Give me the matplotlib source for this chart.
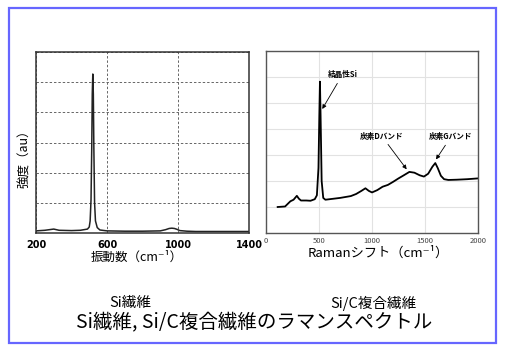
"""Si繊維 / Si-C複合繊維のラマンスペクトル（2 パネル）を再現する。"""
import matplotlib.pyplot as plt
from matplotlib.patches import Rectangle

plt.rcParams['font.family'] = ['Noto Sans CJK JP', 'DejaVu Sans']

# --- 左: Si繊維 -------------------------------------------------------------
si_wavenumber = [200, 250, 300, 330, 400, 450, 490, 500, 505, 510, 514, 517,
                 520, 523, 526, 530, 535, 545, 560, 600, 700, 800, 900, 930,
                 950, 965, 980, 995, 1010, 1050, 1100, 1200, 1300, 1400]
si_intensity = [0.07, 0.09, 0.13, 0.09, 0.08, 0.09, 0.13, 0.2, 0.4, 1.1, 2.8, 4.6,
                5.27, 4.6, 2.8, 1.0, 0.4, 0.18, 0.1, 0.07, 0.06, 0.06, 0.07, 0.11,
                0.15, 0.16, 0.15, 0.12, 0.08, 0.06, 0.05, 0.05, 0.05, 0.05]
si_xticks = [200, 600, 1000, 1400]

# --- 右: Si/C複合繊維 -------------------------------------------------------
sic_shift = [110, 180, 200, 230, 260, 291, 310, 330, 380, 420, 460, 480, 495,
             503, 509, 515, 525, 540, 560, 600, 700, 800, 850, 900, 938, 970,
             1000, 1050, 1100, 1150, 1200, 1250, 1300, 1353, 1400, 1450, 1490,
             1530, 1570, 1597, 1620, 1650, 1680, 1720, 1800, 1900, 2000]
sic_intensity = [1.0, 1.02, 1.1, 1.22, 1.28, 1.43, 1.32, 1.25, 1.25, 1.24, 1.3,
                 1.45, 2.5, 4.5, 5.82, 4.5, 2.0, 1.35, 1.28, 1.3, 1.35, 1.42,
                 1.5, 1.62, 1.72, 1.62, 1.56, 1.65, 1.78, 1.85, 1.97, 2.1, 2.22,
                 2.35, 2.32, 2.22, 2.17, 2.28, 2.55, 2.69, 2.5, 2.2, 2.07, 2.04,
                 2.05, 2.07, 2.1]
sic_xticks = [0, 500, 1000, 1500, 2000]

# (label, text position, arrow tip)
peak_notes = [
    ("結晶性Si", (720, 6.08), (531, 4.77)),
    ("炭素Dバンド", (1092, 3.73), (1327, 2.45)),
    ("炭素Gバンド", (1745, 3.70), (1604, 2.83)),
]

fig = plt.figure(figsize=(5.1, 3.53), dpi=100)

# 青い外枠
fig.patches.append(Rectangle((9 / 510, 10.5 / 353), 487.5 / 510, 335 / 353,
                             transform=fig.transFigure, fill=False,
                             edgecolor='#6666ff', linewidth=1.6))

# left panel
ax1 = fig.add_axes([36 / 510, 120 / 353, 213 / 510, 181 / 353])
ax1.plot(si_wavenumber, si_intensity, color='#222222', linewidth=1.1)
ax1.set_xlim(200, 1400)
ax1.set_ylim(0, 6)
ax1.set_xticks(si_xticks)
ax1.set_yticks(range(7))
ax1.set_yticklabels([])
ax1.tick_params(length=0)
ax1.tick_params(axis='x', pad=5, labelsize=7)
for lbl in ax1.get_xticklabels():
    lbl.set_fontweight('bold')
    lbl.set_family('DejaVu Sans')
ax1.grid(True, linestyle=(0, (2.5, 2)), color='#666666', linewidth=0.7)
for sp in ax1.spines.values():
    sp.set_color('#333333')
    sp.set_linewidth(1.1)
ax1.set_xlabel("振動数（cm⁻¹）", fontsize=9, va='center')
ax1.xaxis.set_label_coords(0.474, -0.135)
ax1.set_ylabel("強度（au）", fontsize=9, va='center', ha='center')
ax1.yaxis.set_label_coords(-0.052, 0.425)

# right panel
ax2 = fig.add_axes([266 / 510, 120 / 353, 212 / 510, 182 / 353])
ax2.plot(sic_shift, sic_intensity, color='black', linewidth=1.3)
ax2.set_xlim(0, 2000)
ax2.set_ylim(0, 7)
ax2.set_xticks(sic_xticks)
ax2.set_yticks(range(8))
ax2.set_yticklabels([])
ax2.tick_params(length=0)
ax2.tick_params(axis='x', pad=3, labelsize=5.5, labelcolor='#444444')
ax2.grid(True, color='#e2e2e2', linewidth=0.8)
for sp in ax2.spines.values():
    sp.set_color('#555555')
    sp.set_linewidth(1.0)
ax2.set_xlabel("Ramanシフト（cm⁻¹）", fontsize=9.5, va='center')
ax2.xaxis.set_label_coords(0.531, -0.108)

for text, xy_text, xy_tip in peak_notes:
    ax2.annotate(text, xy=xy_tip, xytext=xy_text, fontsize=5.5,
                 fontweight='bold', ha='center', va='center',
                 arrowprops=dict(arrowstyle='-|>', color='black', lw=0.6,
                                 mutation_scale=6, shrinkA=1, shrinkB=0))

# 下部キャプション
fig.text(130 / 510, 1 - 303 / 353, "Si繊維", fontsize=10.5, ha='center', va='center')
fig.text(373 / 510, 1 - 303 / 353, "Si/C複合繊維", fontsize=10.5, ha='center', va='center')
fig.text(254 / 510, 1 - 323 / 353, "Si繊維, Si/C複合繊維のラマンスペクトル",
         fontsize=14, ha='center', va='center')

fig.savefig("out.png", dpi=100)
